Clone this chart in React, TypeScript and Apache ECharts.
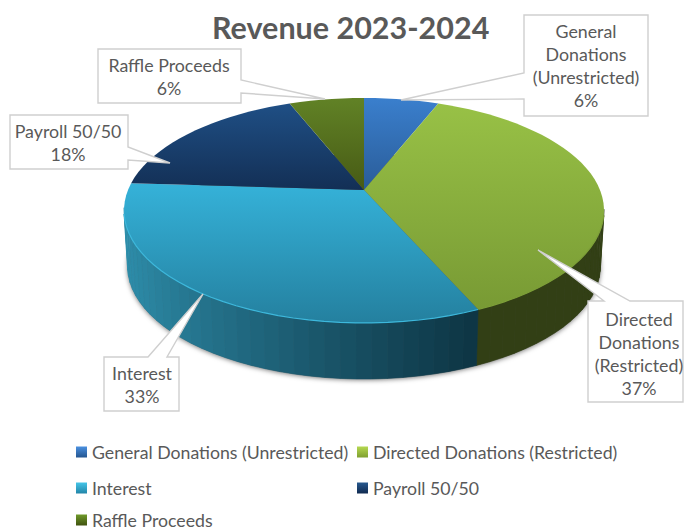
import React, { useEffect, useRef } from "react";
import * as echarts from "echarts";

const categories = [
  "General Donations (Unrestricted)",
  "Directed Donations (Restricted)",
  "Interest",
  "Payroll 50/50",
  "Raffle Proceeds",
];
const values = [6.0, 37.4, 32.6, 18.0, 6.0];
const calloutLines = [
  ["General", "Donations", "(Unrestricted)"],
  ["Directed", "Donations", "(Restricted)"],
  ["Interest"],
  ["Payroll 50/50"],
  ["Raffle Proceeds"],
];
const titleText = "Revenue 2023-2024";

// top-face gradient (top, bottom), side shade (left of view, right of view), rim
const topColors = [
  ["#3a7fcd", "#2a5c98"],
  ["#98c146", "#789a34"],
  ["#35b2d9", "#24809f"],
  ["#1f4f85", "#132f55"],
  ["#618226", "#475a14"],
];
const sideColors = [
  ["#1f4470", "#1f4470"],
  ["#2e3a12", "#323f15"],
  ["#2e8eab", "#0d3342"],
  ["#12304f", "#12304f"],
  ["#3a4a14", "#3a4a14"],
];
const rimColors = ["#3a7fcd", "#7d9f38", "#3db8dc", "#1f4f85", "#618226"];
const legendColors = [
  ["#4a90e0", "#24558f"],
  ["#b5d850", "#7f9f30"],
  ["#45c5e8", "#2285a8"],
  ["#27598f", "#102a50"],
  ["#6f9a2a", "#40520f"],
];

// projective disc geometry
const CX = 364, APEX_Y = 190, RX0 = 236, RY0 = 108.8, K = 0.182;
const DEPTH = 56, BOTTOM_SCALE = 0.985;

const total = values.reduce((a, b) => a + b, 0);
const rim = (theta: number): [number, number] => {
  const u = Math.sin(theta), v = -Math.cos(theta), w = 1 - K * v;
  return [CX + (RX0 * u) / w, APEX_Y + (RY0 * v) / w];
};
const lower = (p: [number, number]): [number, number] => [
  CX + (p[0] - CX) * BOTTOM_SCALE,
  p[1] + DEPTH,
];
const angleOf = (acc: number) => (acc / total) * Math.PI * 2;
const STEP = (3.2 * Math.PI) / 180;

const hex = (c: string) => [1, 3, 5].map((i) => parseInt(c.slice(i, i + 2), 16));
const mix = (a: string, b: string, t: number) => {
  const A = hex(a), B = hex(b);
  return `rgb(${A.map((x, i) => Math.round(x + (B[i] - x) * t)).join(",")})`;
};

const gradient = (c: string[]) =>
  new echarts.graphic.LinearGradient(0, 0, 0, 1, [
    { offset: 0, color: c[0] },
    { offset: 1, color: c[1] },
  ]);

const sliceRender = (index: number) => (_: any, __: any) => {
  const start = angleOf(values.slice(0, index).reduce((a, b) => a + b, 0));
  const end = start + angleOf(values[index]);
  const n = Math.max(2, Math.ceil((end - start) / STEP));
  const arc: number[] = [];
  for (let i = 0; i <= n; i++) arc.push(start + ((end - start) * i) / n);
  const arcPts = arc.map(rim);

  const children: any[] = [];
  for (let i = 0; i < n; i++) {
    const mid = (arc[i] + arc[i + 1]) / 2;
    if (Math.cos(mid) > -K + 0.02) continue;
    const a = arcPts[i], b = arcPts[i + 1];
    const t = (b[0] + a[0]) / 2;
    const frac = Math.min(1, Math.max(0, (t - 124) / 360));
    const shade = mix(sideColors[index][0], sideColors[index][1], Math.pow(frac, 0.8));
    children.push({
      type: "polygon",
      shape: { points: [a, b, lower(b), lower(a)] },
      style: { fill: shade, stroke: shade, lineWidth: 0.6 },
    });
  }
  children.push({
    type: "polygon",
    shape: { points: [[CX, APEX_Y], ...arcPts] },
    style: { fill: gradient(topColors[index]) },
  });
  const front = arcPts.filter((_p, i) => Math.cos(arc[i]) < -K);
  if (front.length > 1) {
    children.push({
      type: "polyline",
      shape: { points: front },
      style: { stroke: rimColors[index], lineWidth: 1.2, fill: "none" },
    });
  }
  return { type: "group", children };
};

const shadowRender = () => {
  const pts: [number, number][] = [];
  for (let d = 0; d <= 360; d += 3) pts.push(lower(rim((d * Math.PI) / 180)));
  return {
    type: "polygon",
    shape: { points: pts },
    style: { fill: "#555555", shadowBlur: 5, shadowColor: "rgba(0,0,0,0.55)", shadowOffsetY: 1 },
  };
};

// callout layout: outline polygon and text anchor for each category
const calloutShapes: { pts: number[][]; tx: number; ty: number }[] = [
  { pts: [[524, 15], [648, 15], [648, 116], [524, 116], [524, 99], [401, 100], [524, 73]], tx: 586, ty: 31 },
  { pts: [[588, 301], [604, 301], [538, 250], [630, 301], [683, 301], [683, 402], [588, 402]], tx: 639, ty: 319 },
  { pts: [[104, 357], [148, 357], [203, 294], [167, 357], [179, 357], [179, 411], [104, 411]], tx: 142, ty: 373 },
  { pts: [[10, 115], [128, 115], [128, 147], [170, 163], [128, 160], [128, 169], [10, 169]], tx: 68, ty: 131 },
  { pts: [[98, 49], [241, 49], [241, 80], [325, 99], [241, 93], [241, 103], [98, 103]], tx: 169, ty: 65 },
];
const LINE = 23;

const callouts = () => {
  const els: any[] = [];
  categories.forEach((_c, i) => {
    const s = calloutShapes[i];
    els.push({
      type: "polygon",
      z: 100,
      shape: { points: s.pts },
      style: { fill: "#ffffff", stroke: "#cfcfcf", lineWidth: 1.4 },
    });
    const lines = [...calloutLines[i], `${Math.round((values[i] / total) * 100)}%`];
    lines.forEach((text, j) => {
      els.push({
        type: "text",
        z: 101,
        x: s.tx,
        y: s.ty + j * LINE,
        style: {
          text,
          fill: "#595959",
          font: "17.8px Lato",
          textAlign: "center",
          textVerticalAlign: "middle",
        },
      });
    });
  });
  return els;
};

const legendSpots = [
  { left: 76, top: 443 },
  { left: 357, top: 443 },
  { left: 76, top: 479 },
  { left: 357, top: 479 },
  { left: 76, top: 511 },
];

export default function App() {
  const ref = useRef<HTMLDivElement>(null);
  useEffect(() => {
    document.body.style.margin = "0";
    const chart = echarts.init(ref.current!, undefined, { renderer: "svg" });
    chart.setOption({
      animation: false,
      backgroundColor: "#ffffff",
      title: {
        text: titleText,
        left: 207,
        top: 6,
        textStyle: { fontFamily: "Lato", fontWeight: "bold", fontSize: 30.5, color: "#595959" },
      },
      legend: categories.map((name, i) => ({
        data: [name],
        ...legendSpots[i],
        padding: 0,
        icon: "rect",
        itemWidth: 11,
        itemHeight: 11,
        selectedMode: false,
        textStyle: { fontFamily: "Lato", fontSize: 17.7, lineHeight: 16, color: "#595959" },
      })),
      graphic: { elements: callouts() },
      series: [
        {
          type: "custom",
          coordinateSystem: "none",
          silent: true,
          z: 1,
          data: [0],
          renderItem: shadowRender,
        },
        ...categories.map((name, i) => ({
          type: "custom",
          name,
          coordinateSystem: "none",
          silent: true,
          z: 2,
          data: [values[i]],
          itemStyle: { color: gradient(legendColors[i]) },
          renderItem: sliceRender(i),
        })),
      ],
    });
    return () => chart.dispose();
  }, []);
  return <div ref={ref} style={{ width: 684, height: 531 }} />;
}
